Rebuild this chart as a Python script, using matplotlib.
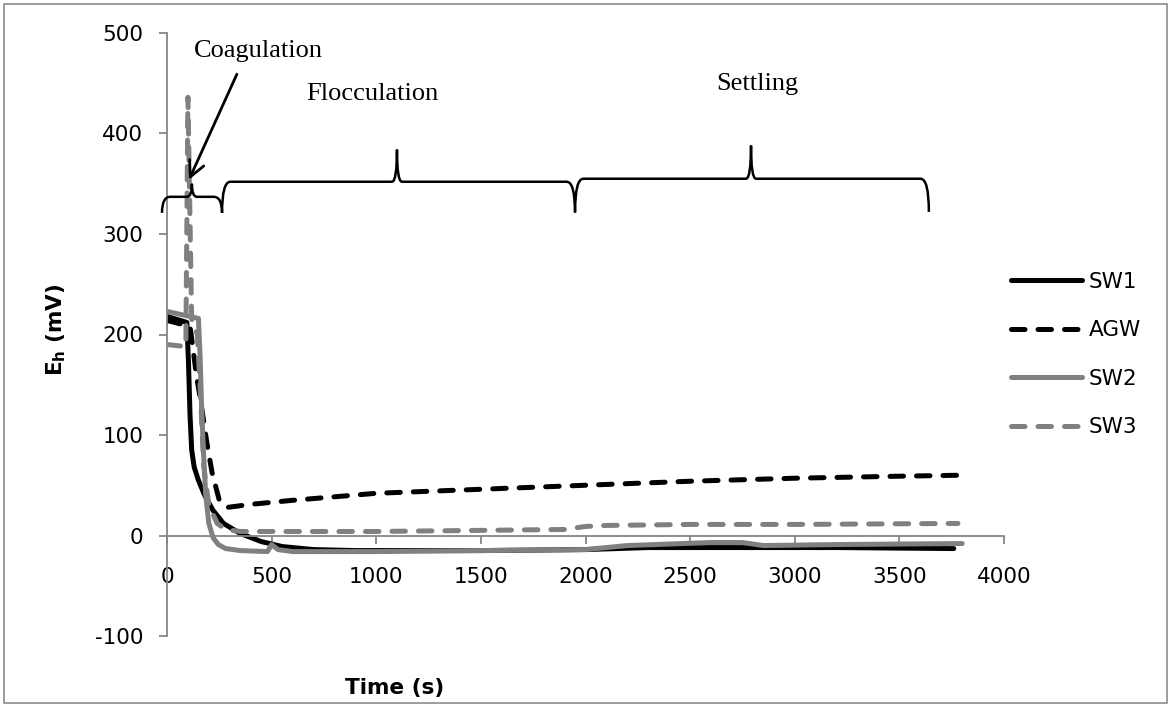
import matplotlib
matplotlib.use("Agg")
import matplotlib.pyplot as plt
from matplotlib.patches import Rectangle, PathPatch
from matplotlib.path import Path

plt.rcParams["axes.unicode_minus"] = False

# ---------------- data ----------------
sw1_t = [0, 95, 103, 110, 118, 130, 150, 180, 220, 270, 350, 450, 550, 700, 900, 1500, 2000, 2300, 2700, 3200, 3760]
sw1_v = [218, 212, 170, 120, 85, 68, 55, 40, 25, 12, 2, -6, -11, -14, -15, -15, -14, -12, -12, -12, -13]

agw_t = [0, 110, 125, 140, 160, 190, 215, 250, 290, 400, 600, 1000, 1500, 2000, 2500, 3000, 3500, 3800]
agw_v = [214, 208, 185, 160, 135, 93, 63, 35, 28, 31, 35, 42, 46, 50, 54, 57, 59, 60]

sw2_t = [0, 150, 158, 165, 175, 185, 200, 220, 245, 280, 350, 480, 500, 530, 600, 1000, 1500, 2000, 2200, 2600, 2750, 2850, 3200, 3800]
sw2_v = [223, 216, 180, 130, 80, 40, 12, -2, -9, -13, -15, -16, -9, -14, -16, -16, -15, -14, -10, -7, -7, -10, -9, -8]

sw3_t = [0, 90, 100, 118, 125, 145, 160, 175, 200, 240, 280, 350, 1000, 1900, 2000, 2100, 2500, 3000, 3780]
sw3_v = [190, 188, 436, 215, 212, 200, 140, 70, 30, 12, 6, 4, 4, 6, 9, 10, 11, 11, 12]

series_names = ["SW1", "AGW", "SW2", "SW3"]
x_ticks = [0, 500, 1000, 1500, 2000, 2500, 3000, 3500, 4000]
y_ticks = [-100, 0, 100, 200, 300, 400, 500]

# phase annotations: (label, start, peak, end)
phases = [("Coagulation", -24, 119, 263), ("Flocculation", 263, 1099, 1950), ("Settling", 1950, 2791, 3641)]

# ---------------- figure ----------------
W, H = 1171, 705
fig = plt.figure(figsize=(W / 100, H / 100), dpi=100)
ax = fig.add_axes([167 / W, 1 - 636 / H, (1004 - 167) / W, (636 - 33) / H])
ax.set_xlim(0, 4000)
ax.set_ylim(-100, 500)

gray = "#808080"
lw = 3.6
dash = (2.7, 2.6)
ax.plot(sw1_t, sw1_v, color="black", lw=lw, solid_capstyle="round", solid_joinstyle="round", label=series_names[0])
ax.plot(agw_t, agw_v, color="black", lw=lw, dashes=dash, dash_capstyle="round", label=series_names[1])
ax.plot(sw2_t, sw2_v, color=gray, lw=lw, solid_capstyle="round", solid_joinstyle="round", label=series_names[2])
ax.plot(sw3_t, sw3_v, color=gray, lw=lw, dashes=dash, dash_capstyle="round", label=series_names[3])

# axes styling
axc = "#868686"
fs = 15.5
for s in ["top", "right"]:
    ax.spines[s].set_visible(False)
ax.spines["left"].set_color(axc)
ax.spines["bottom"].set_color(axc)
ax.spines["left"].set_linewidth(1.3)
ax.spines["bottom"].set_linewidth(1.3)
ax.spines["bottom"].set_position(("data", 0))
ax.set_xticks(x_ticks)
ax.set_yticks(y_ticks)
ax.tick_params(axis="both", direction="out", length=6, width=1.3, color=axc, labelsize=fs)
ax.tick_params(axis="x", pad=17)
ax.tick_params(axis="y", pad=11)

ax.set_xlabel("Time (s)", fontsize=fs, fontweight="bold")
ax.xaxis.set_label_coords((395 - 167) / 837, (636 - 678) / 603)
ax.set_ylabel(r"E$_\mathbf{h}$ (mV)", fontsize=fs, fontweight="bold")
ax.yaxis.set_label_coords((68 - 167) / 837, (636 - 330) / 603)

# legend
ax.legend(loc="upper left", bbox_to_anchor=(1011 / W, 1 - 272 / H), bbox_transform=fig.transFigure,
          frameon=False, fontsize=fs, handlelength=3.3, handletextpad=0.3, labelspacing=1.32,
          borderpad=0, borderaxespad=0)

# braces
def brace(x0, xm, x1, y, ybot, ytip, dx=40):
    verts = [(x0, ybot), (x0, y), (x0 + dx, y),
             (xm - dx * 0.6, y),
             (xm, y), (xm, ytip),
             (xm, y), (xm + dx * 0.6, y),
             (x1 - dx, y),
             (x1, y), (x1, ybot)]
    codes = [Path.MOVETO, Path.CURVE3, Path.CURVE3,
             Path.LINETO,
             Path.CURVE3, Path.CURVE3,
             Path.CURVE3, Path.CURVE3,
             Path.LINETO,
             Path.CURVE3, Path.CURVE3]
    p = PathPatch(Path(verts, codes), fill=False, lw=1.8, ec="black", clip_on=False, zorder=5)
    ax.add_patch(p)

brace_levels = [(337, 321, 350), (352, 321, 384), (355, 322, 388)]
for (name, a, m, b), (y, yb, yt) in zip(phases, brace_levels):
    brace(a, m, b, y, yb, yt)

serif = "Liberation Serif"
ax.text(435, 482, phases[0][0], fontfamily=serif, fontsize=19, ha="center", va="center")
ax.text(980, 439, phases[1][0], fontfamily=serif, fontsize=19, ha="center", va="center")
ax.text(2820, 449, phases[2][0], fontfamily=serif, fontsize=19, ha="center", va="center")
ax.annotate("", xy=(105, 354), xytext=(334, 459),
            arrowprops=dict(arrowstyle="->", lw=2, color="black", mutation_scale=28,
                            shrinkA=0, shrinkB=0), zorder=6)

# chart border
fig.patches.append(Rectangle((0.003, 0.003), 0.994, 0.992, transform=fig.transFigure,
                             fill=False, ec="#8c8c8c", lw=1.2))

fig.savefig("out.png", dpi=100)
